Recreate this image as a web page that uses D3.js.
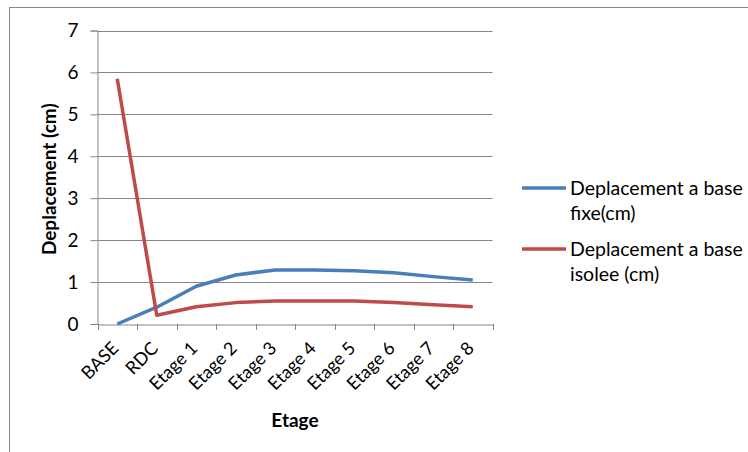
<!DOCTYPE html>
<html>
<head>
<meta charset="utf-8">
<script src="https://cdn.jsdelivr.net/npm/d3@7"></script>
<style>
  body { margin: 0; background: #fff; }
  text { font-family: Lato, "Open Sans", sans-serif; fill: #000; }
</style>
</head>
<body>
<div id="chart"></div>
<script>
const categories = ['BASE', 'RDC', 'Etage 1', 'Etage 2', 'Etage 3', 'Etage 4', 'Etage 5', 'Etage 6', 'Etage 7', 'Etage 8'];
const baseFixe = [0, 0.4, 0.9, 1.17, 1.29, 1.29, 1.27, 1.22, 1.13, 1.05];
const baseIsolee = [5.85, 0.21, 0.41, 0.51, 0.55, 0.55, 0.55, 0.51, 0.46, 0.41];
const yTicks = [0, 1, 2, 3, 4, 5, 6, 7];

const series = [
  { name: ['Deplacement a base', 'fixe(cm)'], values: baseFixe, color: '#4a7ebb' },
  { name: ['Deplacement a base', 'isolee (cm)'], values: baseIsolee, color: '#be4b48' }
];

const width = 748;
const height = 452;
const plot = { left: 97.5, right: 492.5, top: 30.5, bottom: 324 };

const svg = d3.select('#chart')
  .append('svg')
  .attr('width', width)
  .attr('height', height);

// Chart border
svg.append('rect')
  .attr('x', 9.5)
  .attr('y', 7.5)
  .attr('width', width + 10)
  .attr('height', height + 10)
  .attr('fill', 'none')
  .attr('stroke', '#868686')
  .attr('stroke-width', 1);

const x = d3.scaleBand()
  .domain(categories)
  .range([plot.left, plot.right]);

const y = d3.scaleLinear()
  .domain([0, 7])
  .range([plot.bottom, plot.top]);

// Gridlines
svg.append('g')
  .selectAll('line')
  .data(yTicks.filter(d => d > 0))
  .join('line')
  .attr('x1', plot.left)
  .attr('x2', plot.right)
  .attr('y1', d => Math.round(y(d)) + 0.5)
  .attr('y2', d => Math.round(y(d)) + 0.5)
  .attr('stroke', '#868686')
  .attr('stroke-width', 1);

// Y axis
const yAxis = svg.append('g')
  .attr('transform', `translate(${plot.left},0)`)
  .call(d3.axisLeft(y).tickValues(yTicks).tickSize(7).tickPadding(12).tickFormat(d3.format('d')));
yAxis.select('.domain').attr('stroke', '#868686');
yAxis.selectAll('.tick line').attr('stroke', '#868686');
yAxis.selectAll('.tick text').style('font-size', '19px').style('font-family', 'Lato, sans-serif');

// X axis
const xAxis = svg.append('g')
  .attr('transform', `translate(0,${plot.bottom + 0.5})`)
  .call(d3.axisBottom(x).tickSize(0).tickFormat(''));
xAxis.select('.domain').attr('stroke', '#868686');

svg.append('g')
  .selectAll('line')
  .data(d3.range(categories.length + 1))
  .join('line')
  .attr('x1', i => Math.round(plot.left + i * x.step()) + 0.5)
  .attr('x2', i => Math.round(plot.left + i * x.step()) + 0.5)
  .attr('y1', plot.bottom)
  .attr('y2', plot.bottom + 6)
  .attr('stroke', '#868686');

svg.append('g')
  .selectAll('text')
  .data(categories)
  .join('text')
  .attr('transform', d => `translate(${x(d) + x.bandwidth() / 2 - 2},${plot.bottom + 21}) rotate(-45)`)
  .attr('text-anchor', 'end')
  .attr('dy', '0.35em')
  .style('font-size', '18px')
  .text(d => d);

// Axis titles
svg.append('text')
  .attr('transform', `translate(49,${(plot.top + plot.bottom) / 2 + 2}) rotate(-90)`)
  .attr('text-anchor', 'middle')
  .attr('dy', '0.35em')
  .style('font-size', '19px')
  .style('font-weight', 'bold')
  .text('Deplacement (cm)');

svg.append('text')
  .attr('x', (plot.left + plot.right) / 2)
  .attr('y', 420)
  .attr('dy', '0.35em')
  .attr('text-anchor', 'middle')
  .style('font-size', '19px')
  .style('font-weight', 'bold')
  .text('Etage');

// Lines
const line = d3.line()
  .x((d, i) => x(categories[i]) + x.bandwidth() / 2)
  .y(d => y(d));

svg.append('g')
  .selectAll('path')
  .data(series)
  .join('path')
  .attr('d', d => line(d.values))
  .attr('fill', 'none')
  .attr('stroke', d => d.color)
  .attr('stroke-width', 3.5)
  .attr('stroke-linejoin', 'round');

// Legend
const legend = svg.append('g')
  .selectAll('g')
  .data(series)
  .join('g')
  .attr('transform', (d, i) => `translate(522,${188 + i * 61})`);

legend.append('line')
  .attr('x1', 0)
  .attr('x2', 44)
  .attr('stroke', d => d.color)
  .attr('stroke-width', 3.5);

legend.append('text')
  .style('font-size', '19.5px')
  .selectAll('tspan')
  .data(d => d.name)
  .join('tspan')
  .attr('x', 48)
  .attr('dy', (d, i) => i === 0 ? '0.35em' : '25px')
  .text(d => d);
</script>
</body>
</html>
